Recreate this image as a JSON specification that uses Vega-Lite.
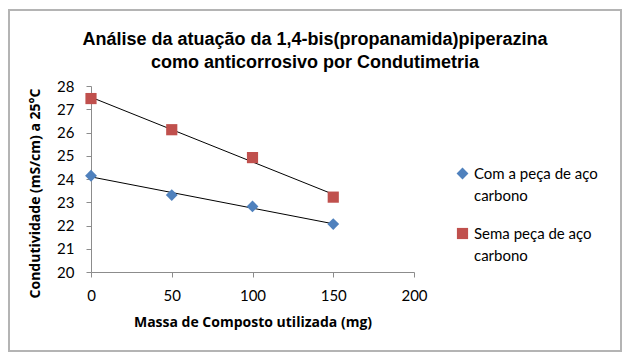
{
  "$schema": "https://vega.github.io/schema/vega-lite/v6.json",
  "width": 612,
  "height": 341,
  "autosize": "none",
  "padding": {"left": 9, "top": 10, "right": 11, "bottom": 13},
  "background": "white",
  "title": {
    "text": ["Análise da atuação da 1,4-bis(propanamida)piperazina", "como anticorrosivo por Condutimetria"],
    "font": "Liberation Sans",
    "fontSize": 18,
    "fontWeight": "bold",
    "color": "#000000",
    "anchor": "middle",
    "offset": -62,
    "lineHeight": 23
  },
  "config": {
    "view": {"stroke": "#b4b4b4", "strokeWidth": 2},
    "style": {"guide-label": {"lineHeight": 22}},
    "axis": {
      "grid": false,
      "domainColor": "#8c8c8c",
      "tickColor": "#8c8c8c",
      "labelFont": "Lato",
      "labelFontSize": 15,
      "labelColor": "#000000",
      "titleFont": "Open Sans",
      "titleFontSize": 14,
      "titleFontWeight": "bold",
      "titleColor": "#000000"
    }
  },
  "data": {
    "values": [
      {"massa": 0, "cond": 24.14, "serie": "Com a peça de aço carbono"},
      {"massa": 50, "cond": 23.31, "serie": "Com a peça de aço carbono"},
      {"massa": 100, "cond": 22.82, "serie": "Com a peça de aço carbono"},
      {"massa": 150, "cond": 22.06, "serie": "Com a peça de aço carbono"},
      {"massa": 0, "cond": 27.46, "serie": "Sema peça de aço carbono"},
      {"massa": 50, "cond": 26.12, "serie": "Sema peça de aço carbono"},
      {"massa": 100, "cond": 24.92, "serie": "Sema peça de aço carbono"},
      {"massa": 150, "cond": 23.22, "serie": "Sema peça de aço carbono"}
    ]
  },
  "layer": [
    {
      "transform": [{"regression": "cond", "on": "massa", "groupby": ["serie"], "method": "linear"}],
      "mark": {"type": "line", "color": "#000000", "strokeWidth": 1},
      "encoding": {
        "x": {"field": "massa", "type": "quantitative"},
        "y": {"field": "cond", "type": "quantitative"},
        "detail": {"field": "serie"}
      }
    },
    {
      "mark": {"type": "point", "filled": true, "opacity": 1},
      "encoding": {
        "x": {
          "field": "massa",
          "type": "quantitative",
          "scale": {"domain": [0, 200], "range": [82, 405], "nice": false},
          "axis": {
            "title": "Massa de Composto utilizada (mg)",
            "values": [0, 50, 100, 150, 200],
            "offset": -79,
            "tickSize": 5,
            "labelFlush": false,
            "labelPadding": 11,
            "titlePadding": 12
          }
        },
        "y": {
          "field": "cond",
          "type": "quantitative",
          "scale": {"domain": [20, 28], "range": [262, 76], "nice": false, "zero": false},
          "axis": {
            "title": "Condutividade  (mS/cm) a 25°C",
            "values": [20, 21, 22, 23, 24, 25, 26, 27, 28],
            "offset": -82,
            "tickSize": 5,
            "labelPadding": 12,
            "titlePadding": 14,
            "titleY": 183
          }
        },
        "color": {
          "field": "serie",
          "type": "nominal",
          "scale": {"range": ["#4F81BD", "#C0504D"]},
          "legend": {
            "title": null,
            "orient": "none",
            "legendX": 446,
            "legendY": 156,
            "labelFont": "Lato",
            "labelFontSize": 15,
            "labelColor": "#000000",
            "labelExpr": "split(replace(datum.label, ' carbono', '|carbono'), '|')",
            "symbolSize": 60,
            "rowPadding": 22,
            "labelOffset": 4
          }
        },
        "shape": {
          "field": "serie",
          "type": "nominal",
          "scale": {"range": ["diamond", "square"]}
        },
        "size": {
          "field": "serie",
          "type": "nominal",
          "scale": {"range": [140, 125]},
          "legend": null
        }
      }
    }
  ]
}
